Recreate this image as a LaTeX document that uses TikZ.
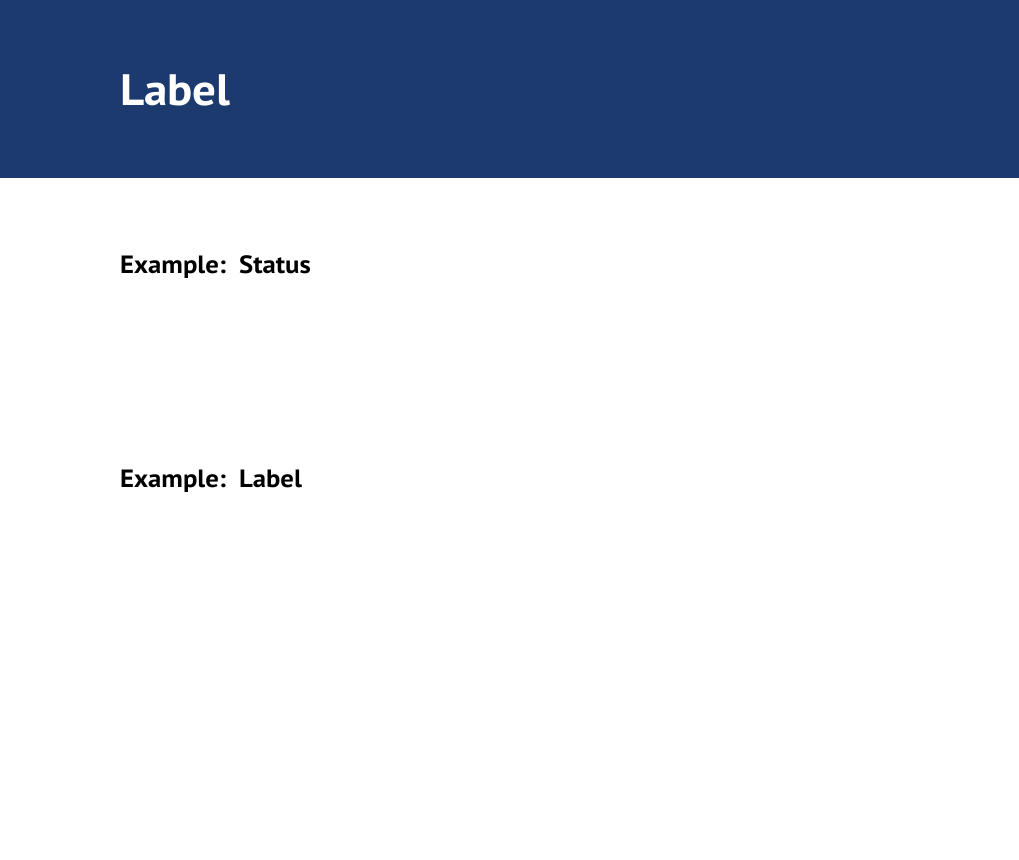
\documentclass[tikz,border=0pt]{standalone}
\usepackage{fontspec}
\setmainfont{PT Sans}
\newfontfamily\widesans[FakeStretch=1.07]{PT Sans}
\definecolor{banner}{HTML}{1C3A6E}
\begin{document}
\begin{tikzpicture}[x=1pt,y=1pt,
  title/.style={anchor=base west,inner sep=0pt,text=white,font=\widesans\bfseries\fontsize{44}{50}\selectfont},
  example/.style={anchor=base west,inner sep=0pt,text=black,font=\widesans\bfseries\fontsize{25}{30}\selectfont}]
\useasboundingbox (0,0) rectangle (1019,-859);
\fill[white] (0,0) rectangle (1019,-859);
\fill[banner] (0,0) rectangle (1019,-178);
\node[title] (head) at (120,-105) {Label};
\node[example] (ex1) at (120,-273) {Example:\hspace{13pt}Status};
\node[example] (ex2) at (120,-487) {Example:\hspace{13pt}Label};
\end{tikzpicture}
\end{document}
